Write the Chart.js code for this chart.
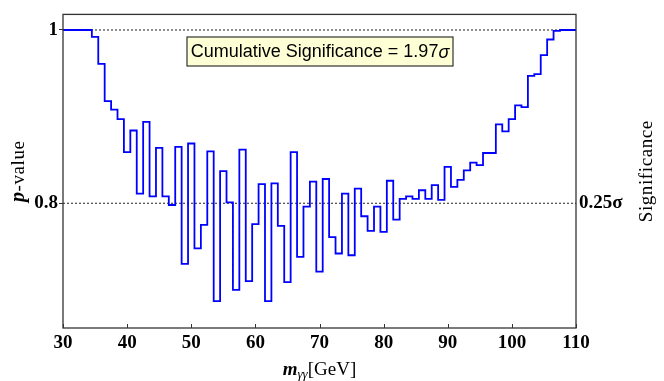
<!DOCTYPE html>
<html>
<head>
<meta charset="utf-8">
<script src="https://cdn.jsdelivr.net/npm/chart.js@4/dist/chart.umd.min.js"></script>
<style>
  body { margin: 0; background: #fff; }
  #wrap { width: 664px; height: 381px; }
</style>
</head>
<body>
<div id="wrap"><canvas id="pChart" width="664" height="381"></canvas></div>
<script>
// bin centres (GeV) and local p-values
const mass = [];
for (let m = 30; m <= 110; m++) mass.push(m);

const pValue = [
  1, 1, 1, 1, 1,                                  // 30-34
  0.992, 0.961, 0.918, 0.908, 0.897,              // 35-39
  0.859, 0.884, 0.811, 0.894, 0.808,              // 40-44
  0.864, 0.808, 0.798, 0.865, 0.730,              // 45-49
  0.869, 0.748, 0.775, 0.860, 0.687,              // 50-54
  0.837, 0.801, 0.700, 0.862, 0.710,              // 55-59
  0.776, 0.822, 0.687, 0.823, 0.774,              // 60-64
  0.709, 0.859, 0.738, 0.796, 0.825,              // 65-69
  0.721, 0.828, 0.761, 0.742, 0.811,              // 70-74
  0.740, 0.817, 0.785, 0.768, 0.796,              // 75-79
  0.767, 0.826, 0.781, 0.805, 0.808,              // 80-84
  0.805, 0.815, 0.805, 0.821, 0.804,              // 85-89
  0.842, 0.819, 0.827, 0.838, 0.847,              // 90-94
  0.844, 0.858, 0.858, 0.891, 0.883,              // 95-99
  0.897, 0.913, 0.911, 0.947, 0.949,              // 100-104
  0.971, 0.989, 0.999, 1, 1, 1                    // 105-110
];

const xTicks = [30, 40, 50, 60, 70, 80, 90, 100, 110];
const yTicks = [0.8, 1];
const yTickLabels = ["0.8", "1"];
const sigTicks = [0.8];
const sigTickLabels = ["0.25\u03c3"];
const refLines = [1, 0.8];
const boxText = "Cumulative Significance = 1.97";

const serif = "'Liberation Serif', 'DejaVu Serif', serif";
const sans = "'Liberation Sans', Arial, sans-serif";

const stepData = mass.map((m, i) => ({ x: m, y: pValue[i] }));

const lineSets = refLines.map((v) => ({
  data: [{ x: 30, y: v }, { x: 110, y: v }],
  borderColor: "#222",
  borderWidth: 1,
  borderDash: [2, 2],
  pointRadius: 0,
  yAxisID: "y",
}));

// frame, inward x ticks, annotation box and axis titles
const decor = {
  id: "decor",
  afterDatasetsDraw(chart) {
    const ctx = chart.ctx;
    const a = chart.chartArea;
    const xs = chart.scales.x;
    ctx.save();
    ctx.strokeStyle = "#333";
    ctx.lineWidth = 1.3;
    ctx.strokeRect(a.left, a.top, a.right - a.left, a.bottom - a.top);

    ctx.lineWidth = 1;
    xTicks.forEach((t) => {
      const px = Math.round(xs.getPixelForValue(t)) + 0.5;
      ctx.beginPath();
      ctx.moveTo(px, a.bottom);
      ctx.lineTo(px, a.bottom - 4);
      ctx.stroke();
    });

    // annotation box
    const bx = 187, by = 37, bw = 266, bh = 29;
    ctx.fillStyle = "#ffffd6";
    ctx.fillRect(bx, by, bw, bh);
    ctx.strokeStyle = "#333";
    ctx.lineWidth = 1.2;
    ctx.strokeRect(bx, by, bw, bh);
    ctx.fillStyle = "#000";
    ctx.textBaseline = "middle";
    ctx.font = "18px " + sans;
    const tW = ctx.measureText(boxText).width;
    ctx.font = "italic 18px " + sans;
    const sW = ctx.measureText("\u03c3").width;
    const tx = bx + (bw - tW - sW) / 2;
    ctx.font = "18px " + sans;
    ctx.fillText(boxText, tx, by + bh / 2 + 1);
    ctx.font = "italic 18px " + sans;
    ctx.fillText("\u03c3", tx + tW, by + bh / 2 + 1);

    // x title: m_{γγ}[GeV]
    const cx = (a.left + a.right) / 2;
    const base = 375;
    ctx.textBaseline = "alphabetic";
    ctx.font = "italic bold 19px " + serif;
    const mW = ctx.measureText("m").width;
    ctx.font = "italic 13px " + serif;
    const gW = ctx.measureText("\u03b3\u03b3").width;
    ctx.font = "19px " + serif;
    const rW = ctx.measureText("[GeV]").width;
    let x0 = cx - (mW + gW + rW) / 2;
    ctx.font = "italic bold 19px " + serif;
    ctx.fillText("m", x0, base);
    ctx.font = "italic 13px " + serif;
    ctx.fillText("\u03b3\u03b3", x0 + mW, base + 3);
    ctx.font = "19px " + serif;
    ctx.fillText("[GeV]", x0 + mW + gW, base);

    // left title: p-value
    const cy = (a.top + a.bottom) / 2;
    ctx.save();
    ctx.translate(24, cy);
    ctx.rotate(-Math.PI / 2);
    ctx.letterSpacing = "0.6px";
    ctx.font = "italic bold 20px " + serif;
    const pW = ctx.measureText("p").width;
    ctx.font = "19px " + serif;
    const vW = ctx.measureText("-value").width;
    ctx.font = "italic bold 20px " + serif;
    ctx.fillText("p", -(pW + vW) / 2, 0);
    ctx.font = "19px " + serif;
    ctx.fillText("-value", -(pW + vW) / 2 + pW, 0);
    ctx.restore();

    // right title: Significance
    ctx.save();
    ctx.translate(652, cy);
    ctx.rotate(-Math.PI / 2);
    ctx.letterSpacing = "0.6px";
    ctx.font = "19px " + serif;
    ctx.textAlign = "center";
    ctx.fillText("Significance", 0, 0);
    ctx.restore();

    ctx.restore();
  },
};

new Chart(document.getElementById("pChart"), {
  type: "line",
  data: {
    datasets: [
      {
        data: stepData,
        stepped: "middle",
        borderColor: "#0000ff",
        borderWidth: 1.8,
        pointRadius: 0,
        fill: false,
        yAxisID: "y",
      },
      ...lineSets,
    ],
  },
  options: {
    responsive: false,
    animation: false,
    layout: { padding: { top: 12, left: 0, right: 0, bottom: 0 } },
    plugins: { legend: { display: false }, tooltip: { enabled: false } },
    scales: {
      x: {
        type: "linear",
        min: 30,
        max: 110,
        afterBuildTicks: (s) => { s.ticks = xTicks.map((v) => ({ value: v })); },
        afterFit: (s) => { s.height = 53; },
        grid: { display: false, drawTicks: false },
        border: { display: false },
        ticks: {
          padding: 4,
          color: "#000",
          font: { family: serif, size: 19, weight: "bold" },
          maxRotation: 0,
        },
      },
      y: {
        position: "left",
        min: 0.656,
        max: 1.018,
        afterBuildTicks: (s) => { s.ticks = yTicks.map((v) => ({ value: v })); },
        afterFit: (s) => { s.width = 63; },
        grid: { drawOnChartArea: false, tickLength: 4, color: "#333" },
        border: { display: false },
        ticks: {
          padding: 1,
          color: "#000",
          font: { family: serif, size: 19, weight: "bold" },
          callback: (v) => yTickLabels[yTicks.indexOf(v)],
        },
      },
      y2: {
        position: "right",
        min: 0.656,
        max: 1.018,
        afterBuildTicks: (s) => { s.ticks = sigTicks.map((v) => ({ value: v })); },
        afterFit: (s) => { s.width = 88; },
        grid: { drawOnChartArea: false, drawTicks: false },
        border: { display: false },
        ticks: {
          padding: 3,
          color: "#000",
          font: { family: serif, size: 19, weight: "bold" },
          callback: (v) => sigTickLabels[sigTicks.indexOf(v)],
        },
      },
    },
  },
  plugins: [decor],
});
</script>
</body>
</html>
